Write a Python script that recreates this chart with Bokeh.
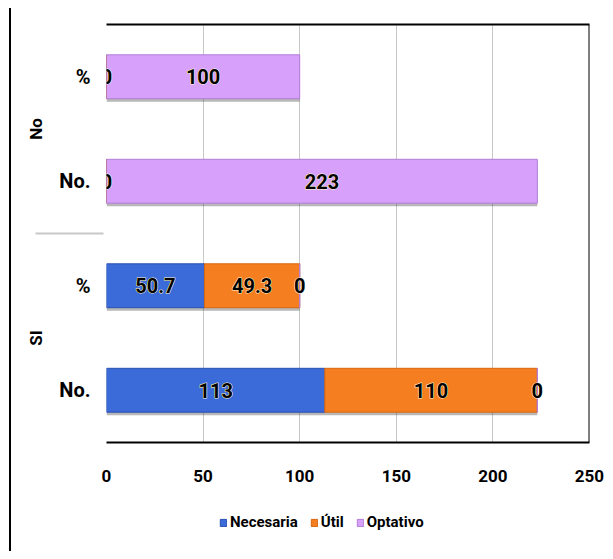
from bokeh.plotting import figure
from bokeh.models import (FactorRange, LinearAxis, ColumnDataSource, Legend, LegendItem,
                          FixedTicker, Span, Range1d)
from bokeh.layouts import column
from bokeh.core.properties import value
from bokeh.transform import dodge
from bokeh.embed import file_html
from bokeh.resources import INLINE

# ---- data ----
groups = ["SI", "SI", "No", "No"]
rows = ["No.", "%", "No.", "%"]
necesaria = [113, 50.7, 0, 0]
util = [110, 49.3, 0, 0]
optativo = [0, 0, 223, 100]
series = ["Necesaria", "Útil", "Optativo"]
colors = ["#3a6bd8", "#f57f20", "#d7a0fa"]
edge_colors = ["#2a4fb0", "#d9660f", "#b37ed8"]
x_ticks = [0, 50, 100, 150, 200, 250]

FONT = "Roboto"

factors = list(zip(groups, rows))
keys = ["necesaria", "util", "optativo"]
totals = [a + b + c for a, b, c in zip(necesaria, util, optativo)]
src = ColumnDataSource(data=dict(y=factors, necesaria=necesaria, util=util,
                                 optativo=optativo, total=totals))

p = figure(y_range=FactorRange(*factors, group_padding=0, factor_padding=0, range_padding=0),
           x_range=(x_ticks[0], x_ticks[-1]),
           frame_width=483, frame_height=418, output_backend="svg", toolbar_location=None,
           min_border_left=95, min_border_right=20, min_border_top=16, min_border_bottom=50,
           outline_line_color=None)

# shadow
p.hbar(y=dodge("y", -0.03, range=p.y_range), left=0, right="total", height=0.42,
       source=src, fill_color="#333333", fill_alpha=0.35, line_color=None)

renderers = p.hbar_stack(keys, y="y", height=0.42, source=src, fill_color=colors,
                         line_color=edge_colors, line_width=1)

# labels
lx, ly, lt = [], [], []
for i, f in enumerate(factors):
    cum = 0
    seen = set()
    for vals in (necesaria, util, optativo):
        v = vals[i]
        xpos = cum + v / 2
        cum += v
        if xpos in seen:
            continue
        seen.add(xpos)
        lx.append(xpos)
        ly.append(f)
        lt.append(f"{v:g}")
lab = ColumnDataSource(data=dict(x=lx, y=ly, t=lt))
p.text(x="x", y="y", text="t", source=lab, text_align="center", text_baseline="middle",
       text_font=value(FONT), text_font_style="bold", text_font_size="20px",
       text_color="#fff6d0", text_outline_color="#fff6d0")
p.text(x="x", y="y", text="t", source=lab, text_align="center", text_baseline="middle",
       text_font=value(FONT), text_font_style="bold", text_font_size="20px",
       text_color="black")

# grid
p.xgrid.ticker = FixedTicker(ticks=x_ticks)
p.xgrid.grid_line_color = "#c8c8c8"
p.ygrid.grid_line_color = None

# x axis
xa = p.xaxis[0]
xa.ticker = FixedTicker(ticks=x_ticks)
xa.axis_line_color = "black"
xa.axis_line_width = 2
xa.major_tick_line_color = None
xa.minor_tick_line_color = None
xa.major_label_standoff = 21
xa.major_label_text_font = FONT
xa.major_label_text_font_style = "bold"
xa.major_label_text_font_size = "17px"
xa.major_label_text_color = "black"

# top line
top_axis = LinearAxis(ticker=FixedTicker(ticks=[]), axis_line_color="black", axis_line_width=2,
                      major_tick_line_color=None, minor_tick_line_color=None)
p.add_layout(top_axis, "above")
# right line
p.add_layout(Span(location=x_ticks[-1], dimension="height", line_color="black", line_width=2))

# y axis
ya = p.yaxis[0]
ya.axis_line_color = None
ya.major_tick_line_color = None
ya.minor_tick_line_color = None
ya.major_label_standoff = 10
ya.major_label_text_font = FONT
ya.major_label_text_font_style = "bold"
ya.major_label_text_font_size = "20px"
ya.major_label_text_color = "black"
ya.group_text_font = FONT
ya.group_text_font_style = "bold"
ya.group_text_font_size = "17px"
ya.group_text_color = "black"
ya.separator_line_color = "#c8c8c8"
ya.separator_line_width = 2

# legend in its own strip under the chart (proxy swatches lie outside the strip's range)
pl = figure(width=598, height=59, output_backend="svg", toolbar_location=None,
            x_range=Range1d(0, 1), y_range=Range1d(0, 1), min_border=0,
            x_axis_location=None, y_axis_location=None, outline_line_color=None)
pl.grid.visible = False
proxy = ColumnDataSource(data=dict(y=[-5], left=[0], right=[0]))
leg_renderers = [pl.hbar(y="y", left="left", right="right", height=0.5, source=proxy,
                         fill_color=c, line_color=e)
                 for c, e in zip(colors, edge_colors)]
legend = Legend(items=[LegendItem(label=s, renderers=[r]) for s, r in zip(series, leg_renderers)],
                orientation="horizontal", location=(113, 20),
                label_text_font=FONT, label_text_font_style="bold",
                label_text_font_size="15px", label_text_color="black",
                glyph_width=8, glyph_height=9, label_standoff=3, spacing=12,
                border_line_color=None, background_fill_alpha=0, padding=0, margin=0)
pl.add_layout(legend)

layout = column(p, pl, spacing=0)
layout.styles = {"border-left": "2px solid black", "margin-left": "9px", "margin-top": "8px"}

open("out.html", "w").write(file_html(layout, INLINE))
